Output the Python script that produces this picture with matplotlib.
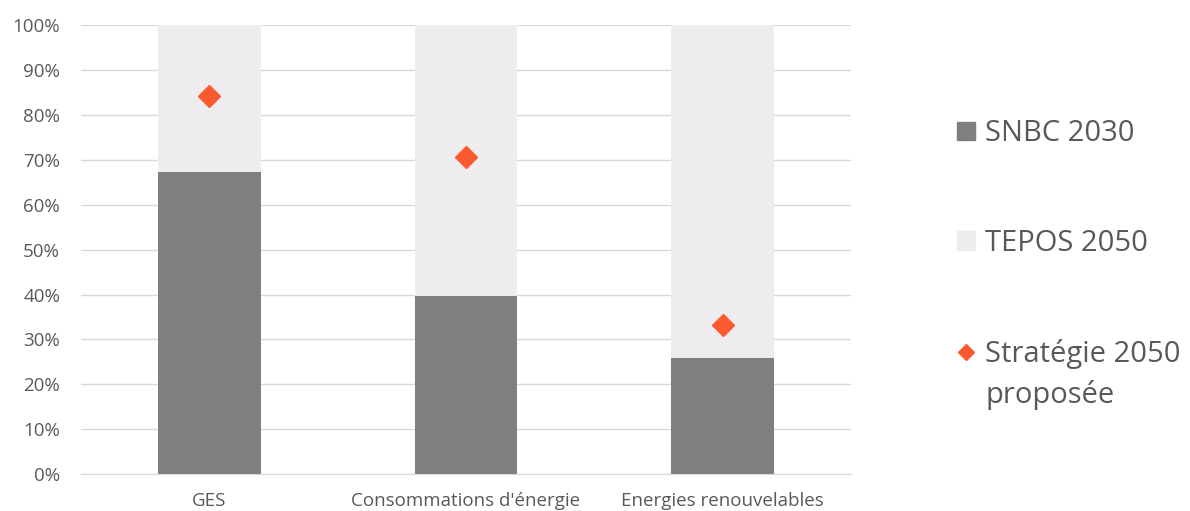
import matplotlib.pyplot as plt
from matplotlib.patches import Patch
from matplotlib.lines import Line2D
from matplotlib.ticker import PercentFormatter

plt.rcParams['font.family'] = ['Open Sans', 'DejaVu Sans']

categories = ["GES", "Consommations d'énergie", "Energies renouvelables"]
snbc_2030 = [67.3, 39.6, 25.8]          # share reached by 2030 (%)
tepos_2050 = [100 - v for v in snbc_2030]  # remainder up to the 2050 target
strategie_2050 = [84.3, 70.7, 33.2]     # proposed 2050 strategy (%)

c_snbc = '#7f7f7f'
c_tepos = '#efecef'
c_strat = '#fa5a2d'

fig = plt.figure(figsize=(11.9, 5.11), dpi=100)
ax = fig.add_axes([0.068, 0.072, 0.647, 0.879])

x = range(len(categories))
ax.bar(x, snbc_2030, width=0.4, color=c_snbc, zorder=2)
ax.bar(x, tepos_2050, width=0.4, bottom=snbc_2030, color=c_tepos, zorder=2)
ax.plot(x, strategie_2050, linestyle='none', marker='D', ms=11, color=c_strat, zorder=3)

ax.set_xlim(-0.5, 2.5)
ax.set_ylim(0, 100)
ax.set_yticks(range(0, 101, 10))
ax.yaxis.set_major_formatter(PercentFormatter(decimals=0))
ax.set_xticks(list(x))
ax.set_xticklabels(categories)
ax.grid(axis='y', color='#d9d9d9', linewidth=1, zorder=0)
for s in ['top', 'right', 'left']:
	ax.spines[s].set_visible(False)
ax.spines['bottom'].set_color('#d9d9d9')
ax.tick_params(axis='both', length=0, labelcolor='#595959', labelsize=13.5)
ax.tick_params(axis='y', pad=15)
ax.tick_params(axis='x', pad=13)

handles = [Patch(color=c_snbc), Patch(color=c_tepos),
	Line2D([], [], linestyle='none', marker='D', ms=8.5, color=c_strat)]
labels = ['SNBC 2030', 'TEPOS 2050', 'Stratégie 2050']
leg = fig.legend(handles, labels, loc='upper left', bbox_to_anchor=(0.782, 0.818),
	frameon=False, fontsize=21, labelspacing=2.77, handlelength=0.62,
	handleheight=0.62, handletextpad=0.35, labelcolor='#595959')

# second line of the last legend label, kept under the first so the marker stays on line one
fig.canvas.draw()
bb = leg.get_texts()[2].get_window_extent().transformed(fig.transFigure.inverted())
fig.text(bb.x0, bb.y0 - 41 / 511, 'proposée', fontsize=21, color='#595959',
	ha='left', va='bottom')

fig.savefig('out.png')
